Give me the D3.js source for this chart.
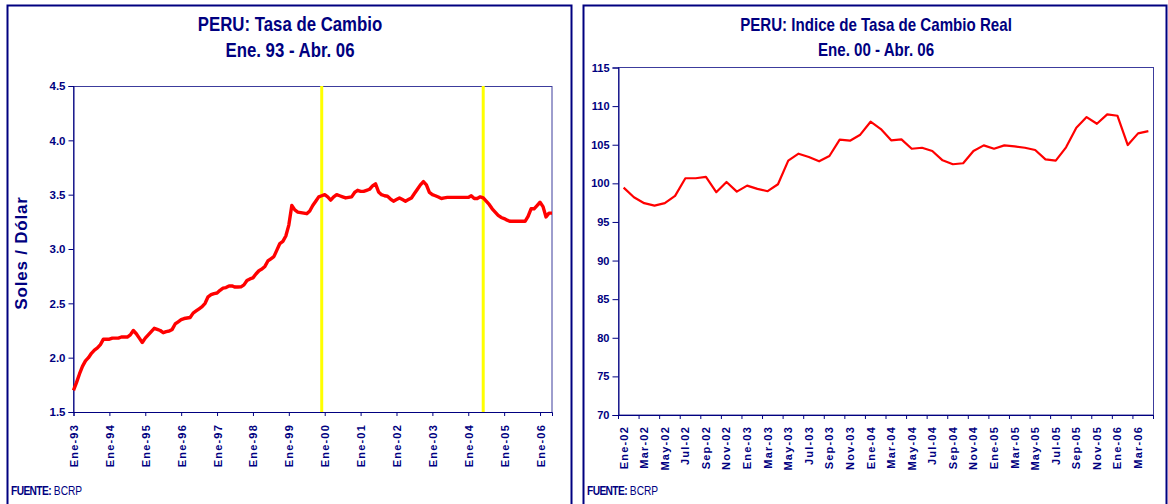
<!DOCTYPE html>
<html><head><meta charset="utf-8">
<script src="https://cdn.jsdelivr.net/npm/d3@7"></script>
<style>
body{margin:0;background:#fff;}
svg{display:block;}
.tick text{fill:#000080;}
</style></head><body>
<svg id="c" width="1168" height="504"></svg>
<script>
// ---------- DATA ----------
const monthNames = ["Ene","Feb","Mar","Abr","May","Jun","Jul","Ago","Sep","Oct","Nov","Dic"];

// Left chart: PERU Tasa de Cambio (Soles por dólar), monthly Ene-93 .. May-06
const leftYears = ["93","94","95","96","97","98","99","00","01","02","03","04","05","06"];
const tasaCambio = [
  1.70, 1.77, 1.85, 1.92, 1.97, 2.00, 2.04, 2.07, 2.09, 2.12, 2.17, 2.17,
  2.17, 2.18, 2.18, 2.18, 2.19, 2.19, 2.19, 2.21, 2.25, 2.22, 2.18, 2.14,
  2.18, 2.21, 2.24, 2.27, 2.26, 2.25, 2.23, 2.24, 2.245, 2.26, 2.31, 2.33,
  2.35, 2.36, 2.365, 2.37, 2.41, 2.43, 2.45, 2.47, 2.50, 2.56, 2.58, 2.59,
  2.595, 2.62, 2.64, 2.645, 2.66, 2.66, 2.65, 2.65, 2.652, 2.67, 2.71, 2.725,
  2.734, 2.77, 2.80, 2.815, 2.84, 2.89, 2.91, 2.93, 2.99, 3.05, 3.07, 3.12,
  3.22, 3.40, 3.36, 3.34, 3.335, 3.33, 3.325, 3.35, 3.40, 3.44, 3.48, 3.49,
  3.50, 3.48, 3.45, 3.48, 3.50, 3.49, 3.48, 3.47, 3.475, 3.48, 3.52, 3.54,
  3.53, 3.53, 3.54, 3.55, 3.58, 3.60, 3.525, 3.50, 3.49, 3.485, 3.46, 3.44,
  3.455, 3.47, 3.455, 3.44, 3.455, 3.47, 3.51, 3.55, 3.59, 3.62, 3.59, 3.52,
  3.50, 3.49, 3.478, 3.465, 3.47, 3.475, 3.475, 3.475, 3.475, 3.475, 3.475, 3.475,
  3.475, 3.49, 3.465, 3.465, 3.48, 3.47, 3.44, 3.41, 3.37, 3.34, 3.31, 3.29,
  3.28, 3.265, 3.255, 3.255, 3.255, 3.255, 3.255, 3.255, 3.30, 3.37, 3.37, 3.40,
  3.43, 3.39, 3.295, 3.33, 3.33
];
const leftYTicks = [1.5, 2.0, 2.5, 3.0, 3.5, 4.0, 4.5];
const leftMarkers = ["Dic-99", "Jun-04"];   // vertical yellow lines

// Right chart: PERU Indice de Tasa de Cambio Real, monthly Ene-02 .. Abr-06
const rightYears = ["02","03","04","05","06"];
const itcr = [
  99.45, 98.2, 97.43, 97.12, 97.43, 98.37, 100.66, 100.66, 100.83, 98.85, 100.18, 98.93,
  99.7, 99.28, 98.98, 99.88, 102.94, 103.84, 103.41, 102.85, 103.54, 105.65, 105.52, 106.3,
  107.98, 107.03, 105.57, 105.7, 104.48, 104.61, 104.19, 102.98, 102.47, 102.6, 104.19, 104.92,
  104.48, 104.92, 104.79, 104.61, 104.31, 103.11, 102.94, 104.66, 107.2, 108.58, 107.71, 108.93,
  108.75, 104.96, 106.47, 106.77
];
const rightYTicks = [70, 75, 80, 85, 90, 95, 100, 105, 110, 115];

// ---------- BUILD ----------
const NAVY = "#000080";
const SANS = "'Liberation Sans',Arial,sans-serif";

const leftMonths = [];
leftYears.forEach(y => monthNames.forEach(m => leftMonths.push(m + "-" + y)));
const leftCats = leftMonths.slice(0, tasaCambio.length);
const rightMonths = [];
rightYears.forEach(y => monthNames.forEach(m => rightMonths.push(m + "-" + y)));
const rightCats = rightMonths.slice(0, itcr.length);

const svg = d3.select("#c");

// panel frames
svg.append("rect").attr("x", 7.5).attr("y", 5.5).attr("width", 564).attr("height", 520)
  .attr("fill", "none").attr("stroke", NAVY).attr("stroke-width", 2);
svg.append("rect").attr("x", 583.5).attr("y", 5.5).attr("width", 583).attr("height", 520)
  .attr("fill", "none").attr("stroke", NAVY).attr("stroke-width", 2);

function title(cx, lines, sizes, ys) {
  lines.forEach((t, i) => {
    svg.append("text").attr("transform", `translate(${cx},${ys[i]}) scale(0.84,1)`)
      .attr("text-anchor", "middle")
      .attr("font-family", SANS).attr("font-weight", "bold").attr("font-size", sizes[i])
      .attr("fill", NAVY).text(t);
  });
}
function footer(x) {
  const t = svg.append("text").attr("transform", `translate(${x},495) scale(0.85,1)`)
    .attr("font-family", SANS).attr("font-size", 12).attr("fill", NAVY);
  t.append("tspan").attr("font-weight", "bold").attr("letter-spacing", -0.7).text("FUENTE:");
  t.append("tspan").text(" BCRP");
}

// ===== LEFT =====
title(290, ["PERU: Tasa de Cambio", "Ene. 93 - Abr. 06"], [20, 20], [31, 57]);
const L = {x0: 73.5, x1: 552, y0: 86, y1: 412};
const xL = d3.scalePoint().domain(leftCats).range([L.x0, L.x1]);
const yL = d3.scaleLinear().domain([1.5, 4.5]).range([L.y1, L.y0]);

svg.append("rect").attr("x", L.x0).attr("y", L.y0 + 0.5).attr("width", L.x1 - L.x0).attr("height", L.y1 - L.y0)
  .attr("fill", "none").attr("stroke", "#3c3c9c").attr("stroke-width", 1);

// yellow markers
svg.selectAll("line.mk").data(leftMarkers).join("line").attr("class", "mk")
  .attr("x1", d => xL(d)).attr("x2", d => xL(d)).attr("y1", L.y0).attr("y2", L.y1)
  .attr("stroke", "#ffff00").attr("stroke-width", 3);

const yAxL = svg.append("g").attr("transform", `translate(${L.x0},0)`)
  .call(d3.axisLeft(yL).tickValues(leftYTicks).tickFormat(d3.format(".1f")).tickSize(5).tickPadding(3));
const xAxL = svg.append("g").attr("transform", `translate(0,${L.y1})`)
  .call(d3.axisBottom(xL).tickValues(leftYears.map(y => "Ene-" + y)).tickSize(4));

[yAxL, xAxL].forEach(g => {
  g.select(".domain").attr("stroke", NAVY);
  g.selectAll(".tick line").attr("stroke", NAVY);
});
yAxL.selectAll("text").attr("font-family", SANS).attr("font-weight", "bold").attr("font-size", 11.5);
xAxL.selectAll("text").attr("font-family", SANS).attr("font-weight", "bold").attr("font-size", 11)
  .attr("letter-spacing", 1.2)
  .attr("transform", "rotate(-90)").attr("text-anchor", "end").attr("x", -12).attr("y", 0).attr("dy", "0.36em");

svg.append("path").datum(tasaCambio)
  .attr("d", d3.line().x((d, i) => xL(leftCats[i])).y(d => yL(d)))
  .attr("fill", "none").attr("stroke", "#ff0000").attr("stroke-width", 3.4).attr("stroke-linejoin", "round");

svg.append("text").attr("transform", "translate(27,253) rotate(-90)").attr("text-anchor", "middle")
  .attr("font-family", SANS).attr("font-weight", "bold").attr("font-size", 17).attr("letter-spacing", 0.8)
  .attr("fill", NAVY).text("Soles / Dólar");
footer(11);

// ===== RIGHT =====
title(876, ["PERU: Indice de Tasa de Cambio Real", "Ene. 00 - Abr. 06"], [18, 18], [31, 56]);
const R = {x0: 618.5, x1: 1153.5, y0: 67.5, y1: 415};
const xR = d3.scaleBand().domain(rightCats).range([R.x0, R.x1]);
const yR = d3.scaleLinear().domain([70, 115]).range([R.y1, R.y0]);

svg.append("rect").attr("x", R.x0).attr("y", R.y0).attr("width", R.x1 - R.x0).attr("height", R.y1 - R.y0)
  .attr("fill", "none").attr("stroke", "#3c3c9c").attr("stroke-width", 1);

const yAxR = svg.append("g").attr("transform", `translate(${R.x0},0)`)
  .call(d3.axisLeft(yR).tickValues(rightYTicks).tickSize(6).tickPadding(3));
const evenCats = rightCats.filter((c, i) => i % 2 === 0);
const xAxR = svg.append("g").attr("transform", `translate(0,${R.y1})`)
  .call(d3.axisBottom(xR).tickValues(evenCats).tickSize(0));
// tick marks at category boundaries every 2 months
svg.append("g").selectAll("line").data(evenCats.concat([null])).join("line")
  .attr("x1", d => d ? xR(d) : R.x1).attr("x2", d => d ? xR(d) : R.x1)
  .attr("y1", R.y1).attr("y2", R.y1 + 4).attr("stroke", NAVY);

[yAxR, xAxR].forEach(g => {
  g.select(".domain").attr("stroke", NAVY);
  g.selectAll(".tick line").attr("stroke", NAVY);
});
yAxR.selectAll("text").attr("font-family", SANS).attr("font-weight", "bold").attr("font-size", 11);
xAxR.selectAll("text").attr("font-family", SANS).attr("font-weight", "bold").attr("font-size", 11)
  .attr("letter-spacing", 1.2)
  .attr("transform", "rotate(-90)").attr("text-anchor", "end").attr("x", -11).attr("y", 0).attr("dy", "0.36em");

svg.append("path").datum(itcr)
  .attr("d", d3.line().x((d, i) => xR(rightCats[i]) + xR.bandwidth() / 2).y(d => yR(d)))
  .attr("fill", "none").attr("stroke", "#ff0000").attr("stroke-width", 2.2).attr("stroke-linejoin", "round");
footer(587);
</script>
</body></html>
